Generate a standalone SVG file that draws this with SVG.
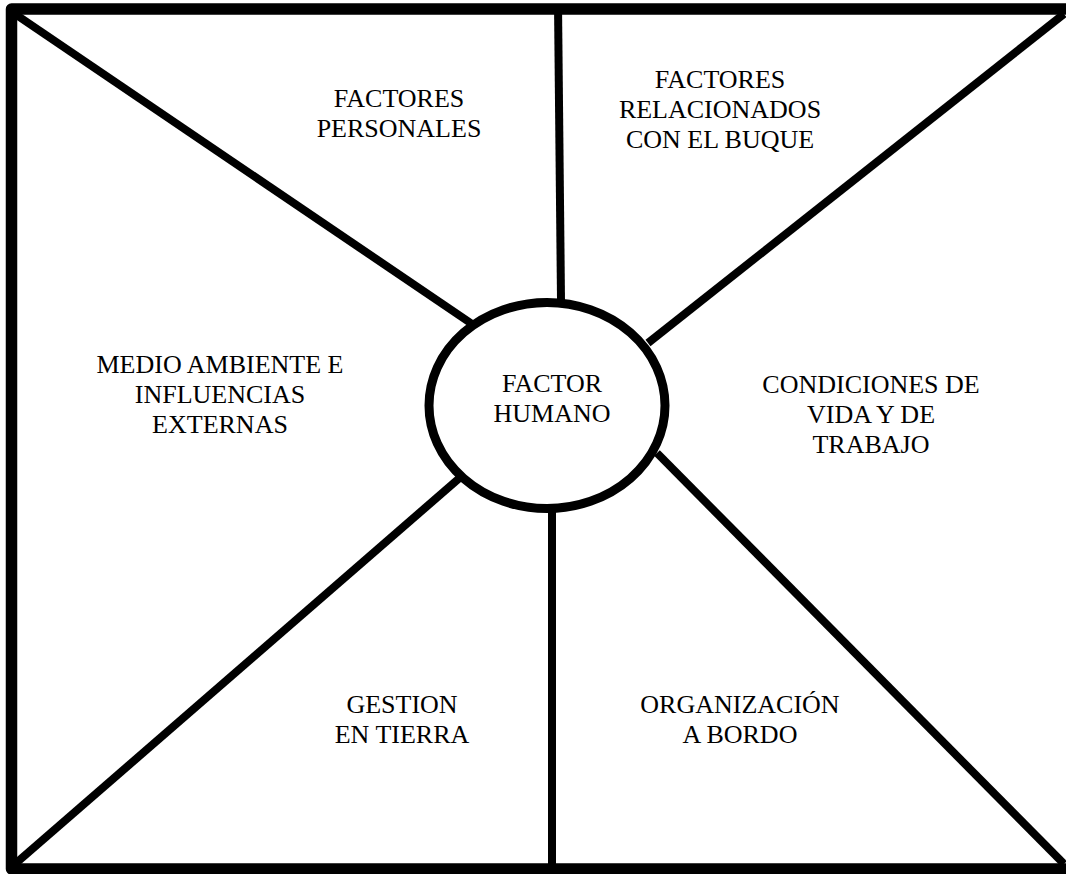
<svg xmlns="http://www.w3.org/2000/svg" width="1066" height="874" viewBox="0 0 1066 874">
<style>
.frame{fill:none;stroke:#000;stroke-width:11.5;stroke-linejoin:round}
.ln{stroke:#000;stroke-width:8;fill:none}
.el{fill:#fff;stroke:#000;stroke-width:9}
.t{font-size:26px;fill:#000;text-anchor:middle}
</style>
<rect width="1066" height="874" fill="#fff"/>
<rect class="frame" x="11.5" y="9" width="1062" height="860"/>
<g id="connectors">
<line class="ln" x1="15" y1="14" x2="475" y2="326"/>
<line class="ln" x1="1064" y1="14" x2="648" y2="343"/>
<line class="ln" x1="15" y1="864" x2="463" y2="475"/>
<line class="ln" x1="1064" y1="864" x2="657" y2="453"/>
<line class="ln" x1="558" y1="4" x2="561" y2="300"/>
<line class="ln" x1="552" y1="510" x2="552" y2="866"/>
</g>
<g font-family="Liberation Serif, Times New Roman, serif">
<g id="factor-humano">
<ellipse class="el" cx="547" cy="405.5" rx="118" ry="103"/>
<text class="t" x="552" y="392">FACTOR</text>
<text class="t" x="552" y="422">HUMANO</text>
</g>
<g id="factores-personales">
<text class="t" x="399" y="107">FACTORES</text>
<text class="t" x="399" y="137">PERSONALES</text>
</g>
<g id="factores-buque">
<text class="t" x="720" y="88">FACTORES</text>
<text class="t" x="720" y="118">RELACIONADOS</text>
<text class="t" x="720" y="148">CON EL BUQUE</text>
</g>
<g id="medio-ambiente">
<text class="t" x="220" y="373">MEDIO AMBIENTE E</text>
<text class="t" x="220" y="403">INFLUENCIAS</text>
<text class="t" x="220" y="433">EXTERNAS</text>
</g>
<g id="condiciones">
<text class="t" x="871" y="393">CONDICIONES DE</text>
<text class="t" x="871" y="423">VIDA Y DE</text>
<text class="t" x="871" y="453">TRABAJO</text>
</g>
<g id="gestion">
<text class="t" x="402" y="713">GESTION</text>
<text class="t" x="402" y="743">EN TIERRA</text>
</g>
<g id="organizacion">
<text class="t" x="740" y="713">ORGANIZACIÓN</text>
<text class="t" x="740" y="743">A BORDO</text>
</g>
</g>
</svg>
